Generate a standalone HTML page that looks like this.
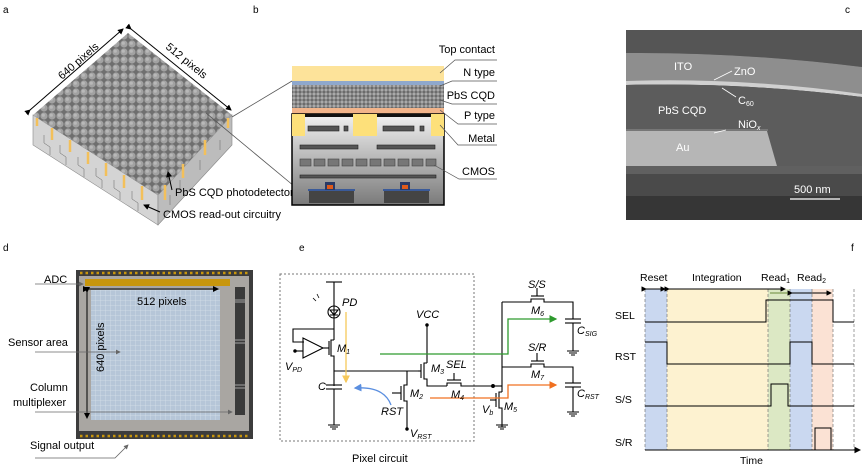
<!DOCTYPE html>
<html><head><meta charset="utf-8"><style>
html,body{margin:0;padding:0;background:#fff;}
svg{display:block;font-family:"Liberation Sans",sans-serif;}
</style></head><body>
<svg width="863" height="474" viewBox="0 0 863 474" xmlns="http://www.w3.org/2000/svg">
<defs>
<pattern id="dome" width="8" height="8" patternUnits="userSpaceOnUse">
<rect width="8" height="8" fill="#6f6f6f"/><circle cx="4" cy="4" r="3.6" fill="#a2a2a2"/><circle cx="3.3" cy="3.2" r="1.6" fill="#b8b8b8"/>
</pattern>
<pattern id="qd" width="4" height="4" patternUnits="userSpaceOnUse">
<rect width="4" height="4" fill="#666"/><circle cx="2" cy="2" r="1.6" fill="#aaa"/>
</pattern>
<pattern id="grid" width="5" height="5" patternUnits="userSpaceOnUse">
<rect width="5" height="5" fill="#b6c6d8"/><path d="M0 0H5M0 0V5" stroke="#d6e0ea" stroke-width="0.8"/>
</pattern>
<linearGradient id="cm" x1="0" y1="0" x2="0" y2="1"><stop offset="0" stop-color="#f2f2f2"/><stop offset="1" stop-color="#7a7a7a"/></linearGradient>
<marker id="ah" markerWidth="6" markerHeight="6" refX="5" refY="3" orient="auto"><path d="M0,0L6,3L0,6z" fill="#000"/></marker>
<marker id="ag" markerWidth="6" markerHeight="6" refX="5" refY="3" orient="auto"><path d="M0,0L6,3L0,6z" fill="#2e9a2e"/></marker>
<marker id="ao" markerWidth="6" markerHeight="6" refX="5" refY="3" orient="auto"><path d="M0,0L6,3L0,6z" fill="#f07020"/></marker>
<marker id="ay" markerWidth="6" markerHeight="6" refX="5" refY="3" orient="auto"><path d="M0,0L6,3L0,6z" fill="#f6c85a"/></marker>
<marker id="ab" markerWidth="6" markerHeight="6" refX="5" refY="3" orient="auto"><path d="M0,0L6,3L0,6z" fill="#5b8fe0"/></marker>
<marker id="agr" markerWidth="6" markerHeight="6" refX="5" refY="3" orient="auto"><path d="M0,0L6,3L0,6z" fill="#666"/></marker>
</defs>

<g font-size="10" fill="#000">
<text x="3" y="13">a</text><text x="253" y="13">b</text><text x="845" y="13">c</text>
<text x="3" y="251">d</text><text x="299" y="251">e</text><text x="851" y="251">f</text>
</g>

<!-- panel a -->
<polygon points="33,115 158,195 158,225 33,145" fill="#d4d4d4" stroke="#888" stroke-width="0.6"/>
<polygon points="158,195 232,115 232,145 158,225" fill="#bcbcbc" stroke="#888" stroke-width="0.6"/>
<polygon points="128,33 33,115 158,195 232,115" fill="url(#dome)"/>
<g stroke="#f3c05a" stroke-width="2.5">
<line x1="37" y1="118" x2="37" y2="126"/><line x1="52" y1="128" x2="52" y2="140"/><line x1="70" y1="140" x2="70" y2="152"/><line x1="88" y1="152" x2="88" y2="164"/><line x1="106" y1="163" x2="106" y2="176"/><line x1="124" y1="175" x2="124" y2="188"/><line x1="142" y1="186" x2="142" y2="200"/>
<line x1="228" y1="118" x2="228" y2="128"/><line x1="205" y1="140" x2="205" y2="155"/><line x1="183" y1="164" x2="183" y2="178"/><line x1="165" y1="185" x2="165" y2="200"/>
</g>
<g stroke="#666" stroke-width="0.5" fill="none">
<path d="M44 135v8l6 4v8M60 145v8l6 4v8M78 157v8l6 4v8M96 168v8l6 4v8M114 180v8l6 4v8M132 191v8l6 4v8"/>
<path d="M200 160v10M180 180v10M170 195v10M220 140v10"/>
</g>
<line x1="30" y1="110" x2="123" y2="29" stroke="#000" stroke-width="1" marker-start="url(#ah)" marker-end="url(#ah)"/>
<line x1="131" y1="29" x2="231" y2="110" stroke="#000" stroke-width="1" marker-start="url(#ah)" marker-end="url(#ah)"/>
<text x="0" y="0" font-size="11" transform="translate(62,80) rotate(-41)">640 pixels</text>
<text x="0" y="0" font-size="11" transform="translate(165,48) rotate(39)">512 pixels</text>
<line x1="172" y1="190" x2="168" y2="172" stroke="#000" marker-end="url(#ah)"/>
<text x="175" y="196" font-size="11">PbS CQD photodetector</text>
<line x1="160" y1="212" x2="144" y2="205" stroke="#000" marker-end="url(#ah)"/>
<text x="163" y="218" font-size="11">CMOS read-out circuitry</text>
<line x1="232" y1="117" x2="292" y2="81" stroke="#555" stroke-width="0.8"/>
<line x1="206" y1="113" x2="294" y2="186" stroke="#555" stroke-width="0.8"/>

<!-- panel b -->
<rect x="292" y="66" width="152" height="15" fill="#fde39a"/>
<rect x="292" y="81" width="152" height="4" fill="#8fa8cc"/>
<rect x="292" y="85" width="152" height="23" fill="url(#qd)"/>
<rect x="292" y="108" width="152" height="6" fill="#f2b48a"/>
<rect x="292" y="114" width="152" height="91" fill="url(#cm)" stroke="#000" stroke-width="1.5"/>
<rect x="292" y="114" width="13" height="22" fill="#fde07a"/><rect x="353" y="114" width="24" height="22" fill="#fde07a"/><rect x="431" y="114" width="13" height="22" fill="#fde07a"/>
<rect x="305" y="114" width="48" height="3" fill="#111"/><rect x="377" y="114" width="54" height="3" fill="#111"/>
<g fill="#555" stroke="#222" stroke-width="0.6">
<rect x="308" y="126" width="31" height="5"/><rect x="344" y="126" width="4" height="5"/><rect x="383" y="126" width="31" height="5"/><rect x="420" y="126" width="4" height="5"/>
<rect x="300" y="145" width="58" height="4"/><rect x="377" y="145" width="58" height="4"/>
<rect x="300" y="175" width="136" height="3"/>
</g>
<g fill="#777" stroke="#444" stroke-width="0.6">
<rect x="300" y="159" width="11" height="7"/><rect x="314" y="159" width="11" height="7"/><rect x="328" y="159" width="11" height="7"/><rect x="342" y="159" width="11" height="7"/><rect x="356" y="159" width="11" height="7"/><rect x="370" y="159" width="11" height="7"/><rect x="384" y="159" width="11" height="7"/><rect x="398" y="159" width="11" height="7"/><rect x="412" y="159" width="11" height="7"/><rect x="426" y="159" width="10" height="7"/>
</g>
<rect x="309" y="191" width="45" height="12" fill="#444"/><rect x="384" y="191" width="45" height="12" fill="#444"/>
<rect x="308" y="189" width="47" height="2" fill="#3a5a99"/><rect x="383" y="189" width="47" height="2" fill="#3a5a99"/>
<rect x="325" y="182" width="10" height="8" fill="#2a3a66"/><rect x="400" y="182" width="10" height="8" fill="#2a3a66"/>
<rect x="327" y="185" width="6" height="4" fill="#e05a1a"/><rect x="402" y="185" width="6" height="4" fill="#e05a1a"/>
<g font-size="11" text-anchor="end">
<text x="495" y="53">Top contact</text><text x="495" y="76">N type</text><text x="495" y="99">PbS CQD</text><text x="495" y="119">P type</text><text x="495" y="142">Metal</text><text x="495" y="175">CMOS</text>
</g>
<g stroke="#555" stroke-width="0.7" fill="none">
<path d="M440 73L455 60H497"/><path d="M440 86L452 81H497"/><path d="M440 100L452 104H497"/><path d="M440 110L458 124H497"/><path d="M440 125L458 145H497"/><path d="M434 165L459 179H497"/>
</g>

<!-- panel c -->
<rect x="626" y="30" width="236" height="190" fill="#3a3a3a"/>
<path d="M626 30H862V67Q740 52 626 53Z" fill="#555"/>
<path d="M626 53Q740 52 862 67V95Q740 78 626 82Z" fill="#8e8e8e"/>
<path d="M626 81Q740 77 862 94V97Q740 82 626 85Z" fill="#d0d0d0"/>
<path d="M626 85Q740 82 862 97V166H777L767 131H626Z" fill="#5c5c5c"/>
<path d="M626 129H768V131H626Z" fill="#777"/>
<path d="M626 131H767L777 166H626Z" fill="#b6b6b6"/>
<rect x="626" y="166" width="236" height="8" fill="#606060"/>
<rect x="626" y="174" width="236" height="22" fill="#4a4a4a"/>
<rect x="626" y="196" width="236" height="24" fill="#363636"/>
<g fill="#fff" font-size="11">
<text x="674" y="70">ITO</text><text x="734" y="75">ZnO</text><text x="658" y="114">PbS CQD</text><text x="738" y="104">C<tspan font-size="7" dy="2">60</tspan></text><text x="738" y="128">NiO<tspan font-size="7" dy="2" font-style="italic">x</tspan></text><text x="676" y="151">Au</text><text x="794" y="193">500 nm</text>
</g>
<g stroke="#fff" stroke-width="0.8"><line x1="732" y1="71" x2="714" y2="80"/><line x1="736" y1="97" x2="722" y2="88"/><line x1="726" y1="130" x2="714" y2="133"/><line x1="790" y1="199" x2="840" y2="199" stroke-width="1.2"/></g>

<!-- panel d -->
<rect x="76" y="270" width="177" height="169" fill="#3c3c3c"/>
<rect x="79" y="276" width="170" height="155" fill="#a9a6a2"/>
<rect x="91" y="290" width="129" height="130" fill="url(#grid)"/>
<rect x="85" y="279" width="145" height="7" fill="#c8960c"/>
<rect x="235" y="287" width="10" height="128" fill="#3a3a3a"/>
<g stroke="#c8960c" stroke-width="2.5" stroke-dasharray="2.5 3">
<line x1="80" y1="273" x2="250" y2="273"/><line x1="80" y1="436" x2="250" y2="436"/>
</g>
<g stroke="#bbb" stroke-width="0.8"><line x1="235" y1="300" x2="245" y2="300"/><line x1="235" y1="302" x2="245" y2="302"/><line x1="235" y1="340" x2="245" y2="340"/><line x1="235" y1="343" x2="245" y2="343"/><line x1="235" y1="385" x2="245" y2="385"/><line x1="235" y1="388" x2="245" y2="388"/></g>
<line x1="88" y1="289" x2="218" y2="289" stroke="#000" marker-start="url(#ah)" marker-end="url(#ah)"/>
<line x1="87" y1="292" x2="87" y2="418" stroke="#000" marker-start="url(#ah)" marker-end="url(#ah)"/>
<text x="137" y="305" font-size="11">512 pixels</text>
<text font-size="11" transform="translate(104,372) rotate(-90)">640 pixels</text>
<g font-size="11"><text x="44" y="283">ADC</text><text x="8" y="346">Sensor area</text><text x="30" y="391">Column</text><text x="13" y="406">multiplexer</text><text x="30" y="449">Signal output</text></g>
<g stroke="#666" stroke-width="0.8" fill="none">
<line x1="35" y1="284" x2="83" y2="284" marker-end="url(#agr)"/>
<line x1="35" y1="352" x2="120" y2="352" marker-end="url(#agr)"/>
<line x1="35" y1="412" x2="232" y2="412" marker-end="url(#agr)"/>
<path d="M35 458H115L128 445" marker-end="url(#agr)"/>
</g>

<!-- panel e -->
<rect x="280" y="274" width="194" height="167" fill="none" stroke="#777" stroke-dasharray="2 2"/>
<text x="352" y="462" font-size="11">Pixel circuit</text>
<g stroke="#000" stroke-width="1.1" fill="none">
<line x1="326" y1="282" x2="342" y2="282"/>
<line x1="334" y1="282" x2="334" y2="340"/>
<circle cx="334" cy="312" r="6"/>
<path d="M330 310h8l-4 5zM330 315h8"/>
<path d="M334 329H293V342H304"/>
<path d="M303 338V358L323 348Z"/><line x1="296" y1="351" x2="303" y2="351"/><circle cx="295" cy="351" r="1.2" fill="#000"/>
<line x1="323" y1="348" x2="329" y2="348"/><line x1="329" y1="341" x2="329" y2="355"/>
<path d="M334 340H331V356H334V386"/>
<line x1="334" y1="371" x2="418" y2="371"/>
<line x1="326" y1="385" x2="342" y2="385"/><line x1="326" y1="389" x2="342" y2="389"/>
<line x1="334" y1="389" x2="334" y2="425"/>
<path d="M328 425h12M330 427h8M332 429h4"/>
<path d="M407 371V385H404V401H407V428"/><line x1="401" y1="386" x2="401" y2="400"/><line x1="392" y1="393" x2="401" y2="393"/>
<circle cx="407" cy="429" r="1.2" fill="#000"/>
<line x1="427" y1="325" x2="427" y2="363"/><circle cx="427" cy="325" r="1.2" fill="#000"/>
<path d="M427 363H424V379H427V386H447"/><line x1="421" y1="364" x2="421" y2="378"/><line x1="418" y1="371" x2="421" y2="371"/>
<path d="M447 386V383H461V386H493"/><line x1="447" y1="380" x2="461" y2="380"/><line x1="454" y1="373" x2="454" y2="380"/>
<circle cx="493" cy="386" r="1.4" fill="#000"/>
<line x1="502" y1="302" x2="502" y2="392"/>
<path d="M493 386H502"/>
<path d="M502 392H499V408H502V427"/><line x1="496" y1="393" x2="496" y2="407"/><line x1="490" y1="400" x2="496" y2="400"/>
<path d="M496 425h12M498 427h8M500 429h4"/>
<path d="M502 302H531V299H544V302H573V319"/><line x1="531" y1="296" x2="544" y2="296"/><line x1="537" y1="288" x2="537" y2="296"/>
<line x1="565" y1="319" x2="581" y2="319"/><line x1="565" y1="323" x2="581" y2="323"/><line x1="573" y1="323" x2="573" y2="351"/>
<path d="M567 351h12M569 353h8M571 355h4"/>
<path d="M502 367H531V364H544V367H573V383"/><line x1="531" y1="361" x2="544" y2="361"/><line x1="537" y1="353" x2="537" y2="361"/>
<line x1="565" y1="383" x2="581" y2="383"/><line x1="565" y1="387" x2="581" y2="387"/><line x1="573" y1="387" x2="573" y2="412"/>
<path d="M567 412h12M569 414h8M571 416h4"/>
</g>
<path d="M316 301l-3-3M319 298l-2-4" stroke="#000" stroke-width="0.8"/>
<path d="M380 354H508V319H556" stroke="#2e9a2e" stroke-width="1.3" fill="none" marker-end="url(#ag)"/>
<path d="M430 398H508V385H556" stroke="#f07020" stroke-width="1.3" fill="none" marker-end="url(#ao)"/>
<line x1="346" y1="312" x2="346" y2="382" stroke="#f6c85a" stroke-width="1.3" marker-end="url(#ay)"/>
<path d="M391 405Q384 386 355 388" stroke="#5b8fe0" stroke-width="1.3" fill="none" marker-end="url(#ab)"/>
<g font-size="11" font-style="italic">
<text x="342" y="306">PD</text>
<text x="337" y="352">M<tspan font-size="7" dy="2">1</tspan></text>
<text x="285" y="370">V<tspan font-size="7" dy="2">PD</tspan></text>
<text x="318" y="390">C</text>
<text x="416" y="318">VCC</text>
<text x="431" y="372">M<tspan font-size="7" dy="2">3</tspan></text>
<text x="446" y="368">SEL</text>
<text x="451" y="398">M<tspan font-size="7" dy="2">4</tspan></text>
<text x="410" y="397">M<tspan font-size="7" dy="2">2</tspan></text>
<text x="381" y="415">RST</text>
<text x="410" y="437">V<tspan font-size="7" dy="2">RST</tspan></text>
<text x="482" y="413">V<tspan font-size="7" dy="2">b</tspan></text>
<text x="504" y="410">M<tspan font-size="7" dy="2">5</tspan></text>
<text x="528" y="288">S/S</text>
<text x="531" y="314">M<tspan font-size="7" dy="2">6</tspan></text>
<text x="577" y="334">C<tspan font-size="7" dy="2">SIG</tspan></text>
<text x="528" y="351">S/R</text>
<text x="531" y="378">M<tspan font-size="7" dy="2">7</tspan></text>
<text x="577" y="397">C<tspan font-size="7" dy="2">RST</tspan></text>
</g>

<!-- panel f -->
<rect x="645" y="289" width="22" height="161" fill="#cad8f0"/>
<rect x="667" y="289" width="101" height="161" fill="#fdf2d0"/>
<rect x="768" y="289" width="22" height="161" fill="#dce8c4"/>
<rect x="790" y="289" width="22" height="161" fill="#cad8f0"/>
<rect x="812" y="289" width="21" height="161" fill="#fbe2d4"/>
<g stroke="#777" stroke-width="0.7" stroke-dasharray="3 2">
<line x1="645" y1="289" x2="645" y2="450"/><line x1="667" y1="289" x2="667" y2="450"/><line x1="768" y1="289" x2="768" y2="450"/><line x1="790" y1="289" x2="790" y2="450"/><line x1="812" y1="289" x2="812" y2="450"/><line x1="833" y1="289" x2="833" y2="450"/><line x1="854" y1="289" x2="854" y2="450"/>
</g>
<g font-size="10.5">
<text x="640" y="281">Reset</text><text x="692" y="281">Integration</text><text x="761" y="281">Read<tspan font-size="7" dy="2">1</tspan></text><text x="797" y="281" dy="0">Read<tspan font-size="7" dy="2">2</tspan></text>
<text x="615" y="319">SEL</text><text x="615" y="360">RST</text><text x="615" y="403">S/S</text><text x="615" y="446">S/R</text>
<text x="740" y="464">Time</text>
</g>
<g stroke="#000" stroke-width="0.9">
<line x1="646" y1="289" x2="665" y2="289" marker-start="url(#ah)" marker-end="url(#ah)"/>
<line x1="669" y1="289" x2="785" y2="289" marker-start="url(#ah)" marker-end="url(#ah)"/>
<line x1="792" y1="293" x2="831" y2="293" marker-start="url(#ah)" marker-end="url(#ah)"/>
</g>
<line x1="770" y1="293" x2="788" y2="293" stroke="#6a8a3a" stroke-width="0.9"/>
<g stroke="#000" stroke-width="1" fill="none">
<path d="M645 322H766V300H833V322H854"/>
<path d="M645 342H667V364H790V342H812V364H854"/>
<path d="M645 406H771V384H788V406H854"/>
<path d="M815 450V428H831V450"/>
</g>
<line x1="645" y1="450" x2="860" y2="450" stroke="#000" stroke-width="1.1" marker-end="url(#ah)"/>
</svg>
</body></html>
